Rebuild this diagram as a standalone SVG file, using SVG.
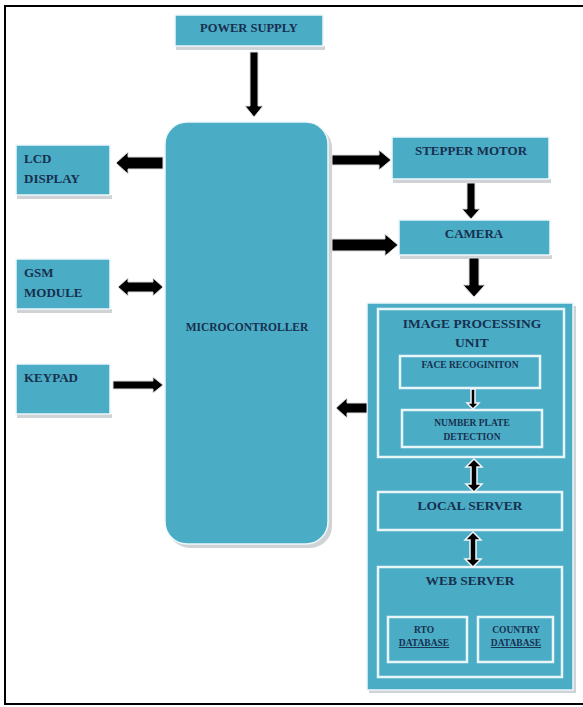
<svg xmlns="http://www.w3.org/2000/svg" width="583" height="707" viewBox="0 0 583 707">
<style>
.box{fill:#4BACC6;stroke:#eef8fb;stroke-width:1.5}
.sh{fill:#cfd3d6}
.inner{fill:none;stroke:#e8f6fa;stroke-width:2.5}
.t{font-family:"Liberation Serif","Times New Roman",serif;font-weight:bold;fill:#17304f}
.c{text-anchor:middle}
.arr{fill:#000;stroke:#d9dcdf;stroke-width:1}
.darr{fill:#000;stroke:#f2f6f8;stroke-width:1.5}
</style>
<rect x="0" y="0" width="583" height="707" fill="#fff"/>
<path d="M585,6 H5 V704 H585" fill="none" stroke="#000" stroke-width="2"/>

<g id="power-supply">
<rect class="sh" x="176" y="46" width="149" height="4"/>
<rect class="box" x="175" y="15" width="148" height="31"/>
<text class="t c" x="249" y="32" font-size="12.5">POWER SUPPLY</text>
</g>

<g id="microcontroller">
<rect class="sh" x="168" y="126" width="164" height="422" rx="22"/>
<rect class="box" x="165" y="122" width="163" height="422" rx="22"/>
<text class="t c" x="247" y="331" font-size="11.5">MICROCONTROLLER</text>
</g>

<g id="lcd-display">
<rect class="sh" x="17" y="195" width="95" height="4"/>
<rect class="box" x="16" y="145" width="94" height="50"/>
<text class="t" x="24" y="163" font-size="13">LCD</text>
<text class="t" x="24" y="183" font-size="13">DISPLAY</text>
</g>

<g id="gsm-module">
<rect class="sh" x="17" y="309" width="95" height="4"/>
<rect class="box" x="16" y="259" width="94" height="50"/>
<text class="t" x="24" y="277" font-size="13">GSM</text>
<text class="t" x="24" y="297" font-size="13">MODULE</text>
</g>

<g id="keypad">
<rect class="sh" x="17" y="414" width="95" height="4"/>
<rect class="box" x="16" y="364" width="94" height="50"/>
<text class="t" x="24" y="382" font-size="13">KEYPAD</text>
</g>

<g id="stepper-motor">
<rect class="sh" x="393" y="179" width="158" height="4"/>
<rect class="box" x="392" y="137" width="157" height="42"/>
<text class="t c" x="471" y="155" font-size="13">STEPPER MOTOR</text>
</g>

<g id="camera">
<rect class="sh" x="400" y="255" width="152" height="4"/>
<rect class="box" x="399" y="220" width="151" height="35"/>
<text class="t c" x="474" y="238" font-size="13">CAMERA</text>
</g>

<g id="processing-panel">
<rect class="sh" x="369" y="306" width="207" height="387"/>
<rect class="box" x="367" y="303" width="206" height="387" stroke="#dfe8ec" stroke-width="2"/>
</g>

<g id="image-processing-unit">
<rect class="inner" x="378" y="309" width="186" height="148"/>
<text class="t c" x="472" y="328" font-size="13.5">IMAGE PROCESSING</text>
<text class="t c" x="472" y="347" font-size="13.5">UNIT</text>
</g>

<g id="face-recognition">
<rect class="inner" x="400" y="356" width="140" height="32"/>
<text class="t c" x="470" y="368" font-size="9.5">FACE RECOGINITON</text>
</g>

<g id="number-plate-detection">
<rect class="inner" x="402" y="410" width="140" height="37"/>
<text class="t c" x="472" y="426" font-size="9.5">NUMBER PLATE</text>
<text class="t c" x="472" y="440" font-size="9.5">DETECTION</text>
</g>

<g id="local-server">
<rect class="inner" x="378" y="492" width="184" height="38"/>
<text class="t c" x="470" y="510" font-size="13.5">LOCAL SERVER</text>
</g>

<g id="web-server">
<rect class="inner" x="378" y="567" width="184" height="110"/>
<text class="t c" x="470" y="585" font-size="13.5">WEB SERVER</text>
</g>

<g id="rto-database">
<rect class="inner" x="388" y="617" width="79" height="45"/>
<text class="t c" x="424" y="633" font-size="9.5">RTO</text>
<text class="t c" x="424" y="646" font-size="9.5" text-decoration="underline">DATABASE</text>
</g>

<g id="country-database">
<rect class="inner" x="478" y="617" width="75" height="45"/>
<text class="t c" x="516" y="633" font-size="9.5">COUNTRY</text>
<text class="t c" x="516" y="646" font-size="9.5" text-decoration="underline">DATABASE</text>
</g>

<g id="connectors">
<path class="arr" d="M250,52 H258 V106 H263 L254,117 L245,106 H250 Z"/>
<path class="arr" d="M163,157 H128 V152 L116,163 L128,174 V169 H163 Z"/>
<path class="arr" d="M332,155 H379 V150 L391,160 L379,170 V165 H332 Z"/>
<path class="arr" d="M332,239 H385 V234 L398,245 L385,256 V251 H332 Z"/>
<path class="arr" d="M118,287 L128,278 V282 H153 V278 L163,287 L153,296 V292 H128 V296 Z"/>
<path class="arr" d="M113,381 H153 V377 L163,385 L153,393 V389 H113 Z"/>
<path class="arr" d="M467,183 H475 V209 H480 L471,219 L462,209 H467 Z"/>
<path class="arr" d="M469,258 H479 V285 H485 L474,297 L463,285 H469 Z"/>
<path class="arr" d="M367,403 H347 V398 L336,408 L347,418 V413 H367 Z"/>
<path class="darr" d="M471,389 H475 V403 H479 L473,409 L467,403 H471 Z"/>
<path class="darr" d="M474,459 L482,467 H477 V484 H482 L474,492 L466,484 H471 V467 H466 Z"/>
<path class="darr" d="M473,532 L481,540 H476 V559 H481 L473,567 L465,559 H470 V540 H465 Z"/>
</g>
</svg>
